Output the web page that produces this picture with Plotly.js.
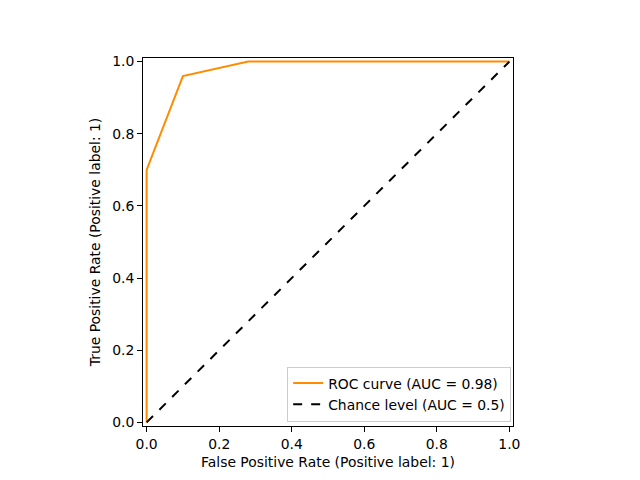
<!DOCTYPE html>
<html>
<head>
<meta charset="utf-8">
<script src="https://cdn.plot.ly/plotly-3.0.1.min.js"></script>
<style>html,body{margin:0;padding:0;background:#fff;}#chart{width:640px;height:480px;}</style>
</head>
<body>
<div id="chart"></div>
<script>
const rocFpr = [0.0, 0.0, 0.1, 0.28, 1.0];
const rocTpr = [0.0, 0.7, 0.96, 1.0, 1.0];
const chanceX = [0, 1];
const chanceY = [0, 1];
const rocName = "ROC curve (AUC = 0.98)";
const chanceName = "Chance level (AUC = 0.5)";
const tickVals = [0, 0.2, 0.4, 0.6, 0.8, 1.0];
const tickText = ["0.0", "0.2", "0.4", "0.6", "0.8", "1.0"];

const traces = [
  {x: rocFpr, y: rocTpr, mode: "lines", name: rocName,
   line: {color: "#ff8c00", width: 2}},
  {x: chanceX, y: chanceY, mode: "lines", name: chanceName,
   line: {color: "#000000", width: 2, dash: "dash"}}
];

const axisCommon = {
  range: [-0.01, 1.01], showline: true, mirror: true, linecolor: "#000", linewidth: 1,
  ticks: "outside", ticklen: 5, tickwidth: 1, tickcolor: "#000",
  showgrid: false, zeroline: false, tickvals: tickVals, ticktext: tickText,
  tickfont: {size: 13.9, color: "#000"}
};

const layout = {
  width: 640, height: 480,
  margin: {l: 143, r: 127, t: 58, b: 54},
  paper_bgcolor: "#fff", plot_bgcolor: "#fff",
  font: {family: "DejaVu Sans", size: 13.9, color: "#000"},
  showlegend: true,
  legend: {x: 0.995, y: 0.012, xanchor: "right", yanchor: "bottom",
           bgcolor: "rgba(255,255,255,0.8)", bordercolor: "#cccccc", borderwidth: 1,
           font: {size: 13.9}, tracegroupgap: 0},
  xaxis: Object.assign({}, axisCommon, {
    title: {text: "False Positive Rate (Positive label: 1)", font: {size: 13.9}, standoff: 6}
  }),
  yaxis: Object.assign({}, axisCommon, {
    title: {text: "True Positive Rate (Positive label: 1)", font: {size: 13.9}, standoff: 8}
  })
};

Plotly.newPlot("chart", traces, layout, {displayModeBar: false, staticPlot: true});
</script>
</body>
</html>
